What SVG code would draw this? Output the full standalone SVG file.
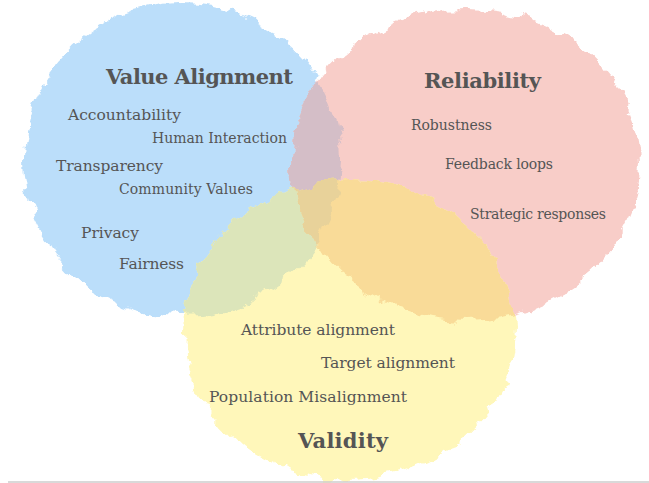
<svg xmlns="http://www.w3.org/2000/svg" width="649" height="483" viewBox="0 0 649 483">
  <defs>
    <style>
      .lbl { font-family: "DejaVu Serif", Georgia, "Liberation Serif", serif; fill: #555555; }
      .title { font-size: 21px; font-weight: bold; }
      .big { font-size: 15.5px; }
      .small { font-size: 14px; }
    </style>
    <filter id="rough" filterUnits="userSpaceOnUse" x="0" y="0" width="649" height="483">
      <feTurbulence type="fractalNoise" baseFrequency="0.05" numOctaves="4" seed="7" result="n"/>
      <feDisplacementMap in="SourceGraphic" in2="n" scale="18" xChannelSelector="R" yChannelSelector="G"/>
    </filter>
    <clipPath id="cBlue"><ellipse cx="182" cy="160" rx="159" ry="156"/></clipPath>
    <clipPath id="cRed"><ellipse cx="466" cy="164" rx="174" ry="156"/></clipPath>
    <clipPath id="cYellow"><ellipse cx="349" cy="330" rx="166" ry="150"/></clipPath>
  </defs>
  <rect width="649" height="483" fill="#ffffff"/>
  <g id="venn-shapes" filter="url(#rough)">
    <ellipse cx="182" cy="160" rx="159" ry="156" fill="#bbdefa"/>
    <ellipse cx="466" cy="164" rx="174" ry="156" fill="#f8cdc8"/>
    <ellipse cx="349" cy="330" rx="166" ry="150" fill="#fff7ba"/>
    <ellipse cx="466" cy="164" rx="174" ry="156" fill="#d4bec7" clip-path="url(#cBlue)"/>
    <ellipse cx="349" cy="330" rx="166" ry="150" fill="#dce5ba" clip-path="url(#cBlue)"/>
    <ellipse cx="349" cy="330" rx="166" ry="150" fill="#f9db98" clip-path="url(#cRed)"/>
    <g clip-path="url(#cBlue)">
      <ellipse cx="349" cy="330" rx="166" ry="150" fill="#e8d29a" clip-path="url(#cRed)"/>
    </g>
  </g>
  <g id="connectors"/>
  <g id="value-alignment" class="lbl">
    <text class="title" x="106" y="84" textLength="187">Value Alignment</text>
    <text class="big" x="68" y="120" textLength="113">Accountability</text>
    <text class="small" x="152" y="143" textLength="135">Human Interaction</text>
    <text class="big" x="56" y="171" textLength="107">Transparency</text>
    <text class="small" x="119" y="194" textLength="134">Community Values</text>
    <text class="big" x="81" y="238" textLength="58">Privacy</text>
    <text class="big" x="119" y="269" textLength="65">Fairness</text>
  </g>
  <g id="reliability" class="lbl">
    <text class="title" x="424" y="88" textLength="117">Reliability</text>
    <text class="small" x="411" y="130" textLength="81">Robustness</text>
    <text class="small" x="445" y="169" textLength="108">Feedback loops</text>
    <text class="small" x="470" y="219" textLength="136">Strategic responses</text>
  </g>
  <g id="validity" class="lbl">
    <text class="big" x="241" y="335" textLength="154">Attribute alignment</text>
    <text class="big" x="321" y="368" textLength="134">Target alignment</text>
    <text class="big" x="209" y="402" textLength="198">Population Misalignment</text>
    <text class="title" x="298" y="448" textLength="90">Validity</text>
  </g>
  <line x1="8" y1="482" x2="649" y2="482" stroke="#cccccc" stroke-width="1.5"/>
</svg>
